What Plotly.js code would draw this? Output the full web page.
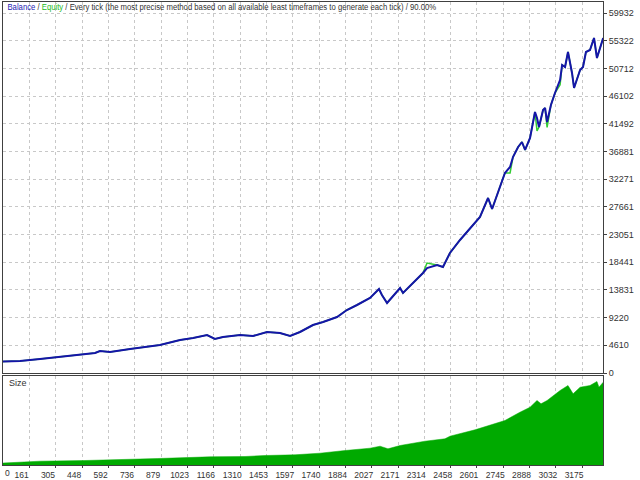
<!DOCTYPE html>
<html>
<head>
<meta charset="utf-8">
<script src="https://cdn.plot.ly/plotly-3.0.1.min.js"></script>
<style>html,body{margin:0;padding:0;background:#fff;}#chart{width:640px;height:480px;}</style>
</head>
<body>
<div id="chart"></div>
<script>
// Trade number (x) and balance values
var trades = [0,109,218,327,436,518,545,600,709,791,872,938,982,1053,1129,1172,1216,1309,1380,1456,1527,1582,1636,1707,1762,1838,1892,1947,2018,2067,2083,2111,2182,2198,2253,2307,2329,2384,2416,2454,2509,2564,2618,2662,2684,2754,2782,2798,2826,2847,2864,2891,2907,2918,2929,2940,2962,2973,2984,3005,3027,3055,3066,3082,3098,3120,3131,3147,3164,3180,3196,3218,3240,3256,3273,3290];
var balance = [1900,1998,2331,2664,2997,3330,3663,3497,3996,4329,4662,5162,5495,5828,6327,5661,5994,6327,6161,6827,6660,6161,6827,7992,8492,9324,10490,11322,12488,13986,12987,11655,14153,13320,14985,16650,17483,17982,17649,19980,22145,24143,25974,29138,27306,33300,34299,35964,37629,38462,37130,39128,41625,43457,42458,40959,43790,44123,41792,44622,46620,48785,51282,50949,53447,49950,47453,49118,50450,50949,53447,53780,55778,52448,54279,55778];
var equity = [1900,1998,2331,2664,2997,3330,3663,3497,3996,4329,4662,5162,5495,5828,6327,5661,5994,6327,6161,6827,6660,6161,6827,7992,8492,9324,10490,11322,12488,13986,12987,11655,14153,13320,14985,16650,18300,17982,17649,19980,22145,24143,25974,29138,27306,33300,33300,35964,37629,38462,37130,39128,41625,43457,40300,40959,43790,44123,40900,44622,46620,48000,51282,50949,53447,49950,47453,49118,50450,50949,53447,53780,55778,52448,54279,55778];

// Position size panel
var sizeTrades = [0,163,218,463,572,643,861,982,1145,1336,1445,1609,1691,1745,1882,2018,2073,2116,2182,2318,2427,2454,2591,2673,2754,2836,2891,2929,2951,2984,3055,3098,3126,3164,3218,3256,3267,3290];
var sizes = [0.18,0.28,0.38,0.45,0.52,0.58,0.65,0.72,0.82,0.85,0.95,1.02,1.12,1.18,1.45,1.68,1.88,1.62,1.95,2.38,2.62,2.88,3.52,3.95,4.45,5.28,5.78,6.45,6.12,6.45,7.45,7.95,7.12,7.78,7.95,8.35,7.78,8.28];

// Axis tick labels
var xTickVals = [161,305,448,592,736,879,1023,1166,1310,1453,1597,1740,1884,2027,2171,2314,2458,2601,2745,2888,3032,3175];
var yTickVals = [0,4610,9220,13831,18441,23051,27661,32271,36881,41492,46102,50712,55322,59932];

var FONT = "'Liberation Sans Narrow','Arial Narrow','Liberation Sans',Arial,sans-serif";
var GRID = '#c8c8c8';
var FRAME = '#404040';

var traces = [
  {x: trades, y: equity, type: 'scatter', mode: 'lines', line: {color: '#33cc33', width: 1.5}, xaxis: 'x', yaxis: 'y', hoverinfo: 'skip'},
  {x: trades, y: balance, type: 'scatter', mode: 'lines', line: {color: '#1515a8', width: 2}, xaxis: 'x', yaxis: 'y', hoverinfo: 'skip'},
  {x: sizeTrades, y: sizes, type: 'scatter', mode: 'lines', fill: 'tozeroy', fillcolor: '#00aa00', line: {color: '#00aa00', width: 0.5}, xaxis: 'x2', yaxis: 'y2', hoverinfo: 'skip'}
];

var xRange = [16, 3289];
var layout = {
  width: 640, height: 480,
  margin: {l: 3, r: 37, t: 2, b: 15},
  paper_bgcolor: '#ffffff', plot_bgcolor: '#ffffff',
  showlegend: false,
  font: {family: FONT, size: 9, color: '#333333'},
  xaxis: {domain: [0, 1], anchor: 'y', range: xRange, tickvals: xTickVals, showticklabels: false, ticks: '',
          showgrid: true, gridcolor: GRID, griddash: '3px,3px', gridwidth: 1, zeroline: false,
          showline: true, mirror: true, linecolor: FRAME, linewidth: 1},
  yaxis: {domain: [0.1987, 1], anchor: 'x', side: 'right', range: [0, 61770], tickvals: yTickVals,
          ticktext: yTickVals.map(String), ticks: 'outside', ticklen: 3, tickcolor: FRAME,
          tickfont: {family: FONT, size: 9, color: '#333333'},
          showgrid: true, gridcolor: GRID, griddash: '3px,3px', gridwidth: 1, zeroline: false,
          showline: true, mirror: true, linecolor: FRAME, linewidth: 1},
  xaxis2: {domain: [0, 1], anchor: 'y2', range: xRange, tickvals: xTickVals, ticktext: xTickVals.map(String),
           ticks: 'outside', ticklen: 2, tickcolor: FRAME, ticklabelshift: -8,
           tickfont: {family: FONT, size: 8.5, color: '#333333'},
           showgrid: true, gridcolor: GRID, griddash: '3px,3px', gridwidth: 1, zeroline: false,
           showline: true, mirror: true, linecolor: FRAME, linewidth: 1},
  yaxis2: {domain: [0, 0.1922], anchor: 'x2', side: 'right', range: [0, 8.9], showticklabels: false, ticks: '',
           showgrid: false, zeroline: false, showline: true, mirror: true, linecolor: FRAME, linewidth: 1},
  annotations: [
    {xref: 'paper', yref: 'paper', x: 0.004, y: 0.9905, xanchor: 'left', yanchor: 'middle', showarrow: false,
     text: "<span style='color:#2323b4'>Balance</span> / <span style='color:#22bb22'>Equity</span> / Every tick (the most precise method based on all available least timeframes to generate each tick) / 90.00%",
     font: {family: FONT, size: 9.5, color: '#333333'}},
    {xref: 'x2 domain', yref: 'y2 domain', x: 0.006, y: 0.92, xanchor: 'left', yanchor: 'middle', showarrow: false,
     text: 'Size', font: {family: FONT, size: 9, color: '#333333'}},
    {xref: 'paper', yref: 'paper', x: 0.0, y: -0.002, xanchor: 'left', yanchor: 'top', showarrow: false,
     text: '0', font: {family: FONT, size: 8.5, color: '#333333'}}
  ]
};

Plotly.newPlot('chart', traces, layout, {staticPlot: true, displayModeBar: false}).then(function () {
  // condense the header line horizontally to the width it has in the reference, keeping its left edge
  var t = document.querySelectorAll('.annotation-text')[0];
  if (t) {
    var bb = t.getBBox();
    if (bb.width > 0) {
      var sx = 430 / bb.width;
      t.setAttribute('transform', 'translate(' + bb.x + ',0) scale(' + sx + ',1) translate(' + (-bb.x) + ',0)');
    }
  }
});
</script>
</body>
</html>
